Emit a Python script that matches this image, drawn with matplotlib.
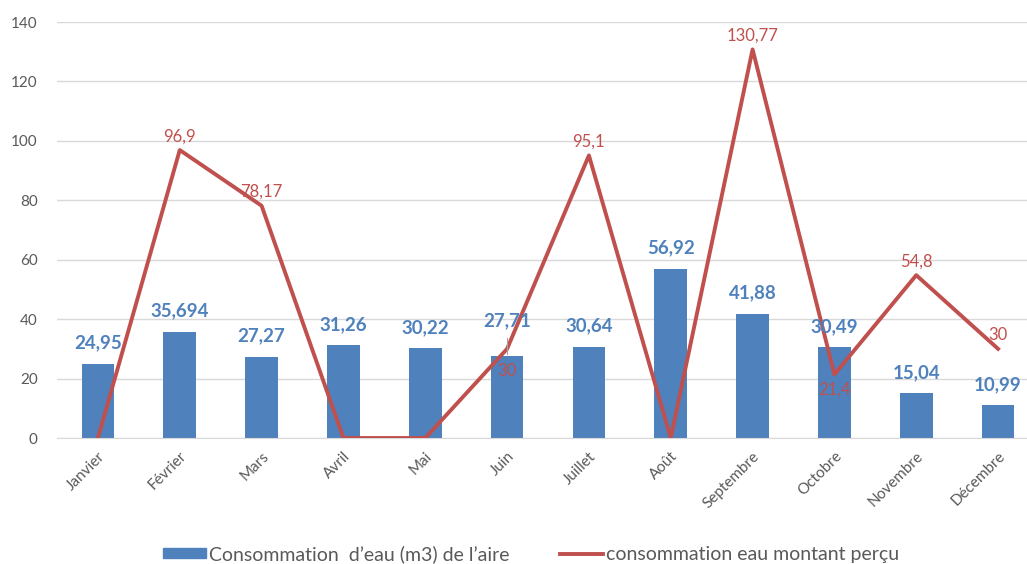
import numpy as np
import matplotlib
matplotlib.use("Agg")
import matplotlib.pyplot as plt
from matplotlib.patches import Patch
from matplotlib.lines import Line2D

plt.rcParams['font.family'] = ['Lato', 'DejaVu Sans']

# DATA
mois = ['Janvier', 'Février', 'Mars', 'Avril', 'Mai', 'Juin', 'Juillet',
        'Août', 'Septembre', 'Octobre', 'Novembre', 'Décembre']
conso_aire = [24.95, 35.694, 27.27, 31.26, 30.22, 27.71, 30.64,
              56.92, 41.88, 30.49, 15.04, 10.99]
montant_percu = [0, 96.9, 78.17, 0, 0, 30, 95.1, 0, 130.77, 21.4, 54.8, 30]

blue = '#4F81BD'
red = '#C0504D'
grey = '#595959'

def fr(v):
    return f"{v:g}".replace('.', ',')

fig = plt.figure(figsize=(10.27, 5.64), dpi=100)
ax = fig.add_axes([57/1027, 1-438/564, 982/1027, 416/564])

x = np.arange(len(mois))
ax.bar(x, conso_aire, width=0.4, color=blue, zorder=2)
ax.plot(x, montant_percu, color=red, lw=2.8, zorder=3)

# labels des barres
for i, v in enumerate(conso_aire):
    off = 25 if mois[i] == 'Juin' else 15
    ax.annotate(fr(v), (i, v), xytext=(0, off), textcoords='offset points',
                ha='center', va='center', color=blue, fontsize=13.5,
                fontweight='bold', zorder=4)
ax.plot([5, 5], [27.71 + 0.5, 27.71 + 6], color='#A6A6A6', lw=0.8, zorder=4)

# labels de la courbe
for i, v in enumerate(montant_percu):
    if v == 0:
        continue
    if mois[i] in ('Juin', 'Octobre'):
        off = -16 if mois[i] == 'Juin' else -11
    else:
        off = 10
    ax.annotate(fr(v), (i, v), xytext=(0, off), textcoords='offset points',
                ha='center', va='center', color=red, fontsize=12, zorder=4)

ax.set_xlim(-0.5, len(mois) - 0.5)
ax.set_ylim(0, 140)
ax.set_yticks(np.arange(0, 141, 20))
ax.yaxis.grid(True, color='#D9D9D9', lw=1, zorder=0)
ax.set_axisbelow(True)
for s in ['top', 'right', 'left']:
    ax.spines[s].set_visible(False)
ax.spines['bottom'].set_color('#D9D9D9')
ax.tick_params(axis='both', length=0, colors=grey)
ax.tick_params(axis='y', labelsize=11, pad=14)
ax.set_xticks(x)
ax.set_xticklabels(mois, rotation=45, ha='right', rotation_mode='anchor',
                   fontsize=11, color=grey)
ax.tick_params(axis='x', pad=8)

handles = [Patch(color=blue), Line2D([0], [0], color=red, lw=2.8)]
labels = ['Consommation  d’eau (m3) de l’aire', 'consommation eau montant perçu']
fig.legend(handles, labels, loc='center', bbox_to_anchor=(0.517, 0.018), ncol=2,
           frameon=False, fontsize=14, labelcolor=grey, handlelength=2.2,
           handleheight=0.45, handletextpad=0.15, columnspacing=2.6)

fig.savefig('out.png', dpi=100)
